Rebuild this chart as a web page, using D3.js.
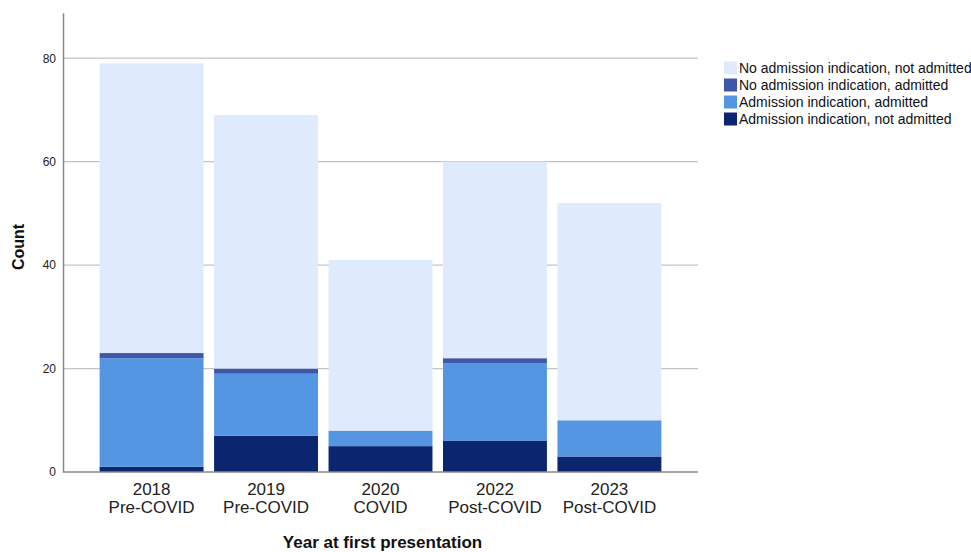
<!DOCTYPE html>
<html>
<head>
<meta charset="utf-8">
<script src="https://cdn.jsdelivr.net/npm/d3@7"></script>
<style>
  html, body { margin: 0; padding: 0; background: #ffffff; }
  svg { display: block; font-family: "Liberation Sans", Arial, sans-serif; }
</style>
</head>
<body>
<svg id="chart" width="971" height="552"></svg>
<script>
// ---- data ----
const years = ["2018", "2019", "2020", "2022", "2023"];
const periods = ["Pre-COVID", "Pre-COVID", "COVID", "Post-COVID", "Post-COVID"];
// stacked from bottom to top
const seriesNames = [
  "Admission indication, not admitted",
  "Admission indication, admitted",
  "No admission indication, admitted",
  "No admission indication, not admitted"
];
const admIndNotAdmitted   = [1, 7, 5, 6, 3];
const admIndAdmitted      = [21, 12, 3, 15, 7];
const noAdmIndAdmitted    = [1, 1, 0, 1, 0];
const noAdmIndNotAdmitted = [56, 49, 33, 38, 42];
const yTicks = [0, 20, 40, 60, 80];
const colors = ["#0b266e", "#5596e2", "#3e57a8", "#dfebfc"];

(function () {
const seriesValues = [admIndNotAdmitted, admIndAdmitted, noAdmIndAdmitted, noAdmIndNotAdmitted];
const table = years.map((yr, i) => {
  const row = { year: yr, period: periods[i] };
  seriesNames.forEach((s, k) => row[s] = seriesValues[k][i]);
  return row;
});

const svg = d3.select("#chart");
const mLeft = 63, mRight = 698, mBottom = 472, mTop = 12.7;

const x = d3.scaleBand().domain(years).range([mLeft, mRight]).paddingInner(0.092).paddingOuter(0.32);
const y = d3.scaleLinear().domain([0, 88.8]).range([mBottom, mTop]);

// gridlines
svg.append("g").selectAll("line").data(yTicks.filter(d => d > 0)).join("line")
  .attr("x1", mLeft).attr("x2", mRight)
  .attr("y1", d => y(d)).attr("y2", d => y(d))
  .attr("stroke", "#c4c4c4").attr("stroke-width", 1.2);

// stacked bars
const stack = d3.stack().keys(seriesNames)(table);
svg.append("g").selectAll("g").data(stack).join("g")
  .attr("fill", (d, i) => colors[i])
  .selectAll("rect").data(d => d).join("rect")
  .attr("x", d => x(d.data.year))
  .attr("width", x.bandwidth())
  .attr("y", d => y(d[1]))
  .attr("height", d => Math.max(0, y(d[0]) - y(d[1])));

// y axis
const yAxis = svg.append("g").attr("transform", `translate(${mLeft},0)`)
  .call(d3.axisLeft(y).tickValues(yTicks).tickSize(0).tickPadding(7).tickFormat(d3.format("d")));
yAxis.select(".domain").attr("stroke", "#8a8a8a").attr("stroke-width", 1.5);
yAxis.selectAll("text").attr("font-size", 12).attr("fill", "#222")
  .attr("font-family", "Liberation Sans, Arial, sans-serif");

// x axis
const xAxis = svg.append("g").attr("transform", `translate(0,${mBottom})`)
  .call(d3.axisBottom(x).tickSize(0).tickFormat(""));
xAxis.select(".domain").attr("d", `M${mLeft},0H${mRight}`).attr("stroke", "#8a8a8a").attr("stroke-width", 1.5);

const labels = svg.append("g").selectAll("text").data(table).join("text")
  .attr("text-anchor", "middle").attr("font-size", 17).attr("fill", "#222");
labels.append("tspan").attr("x", d => x(d.year) + x.bandwidth() / 2).attr("y", 495).text(d => d.year);
labels.append("tspan").attr("x", d => x(d.year) + x.bandwidth() / 2).attr("y", 513).text(d => d.period);

// axis titles
svg.append("text").attr("x", (mLeft + mRight) / 2 + 2).attr("y", 548)
  .attr("text-anchor", "middle").attr("font-size", 17).attr("font-weight", "bold").attr("fill", "#111")
  .text("Year at first presentation");
svg.append("text").attr("transform", "translate(24,247) rotate(-90)")
  .attr("text-anchor", "middle").attr("font-size", 16).attr("font-weight", "bold").attr("fill", "#111")
  .text("Count");

// legend
const legendOrder = seriesNames.map((s, i) => ({ name: s, color: colors[i] })).reverse();
const lg = svg.append("g").selectAll("g").data(legendOrder).join("g")
  .attr("transform", (d, i) => `translate(724,${68 + i * 17})`);
lg.append("rect").attr("x", 0).attr("y", -6.5).attr("width", 13).attr("height", 13).attr("fill", d => d.color);
lg.append("text").attr("x", 15).attr("y", 5).attr("font-size", 14).attr("fill", "#111").text(d => d.name);
})();
</script>
</body>
</html>
